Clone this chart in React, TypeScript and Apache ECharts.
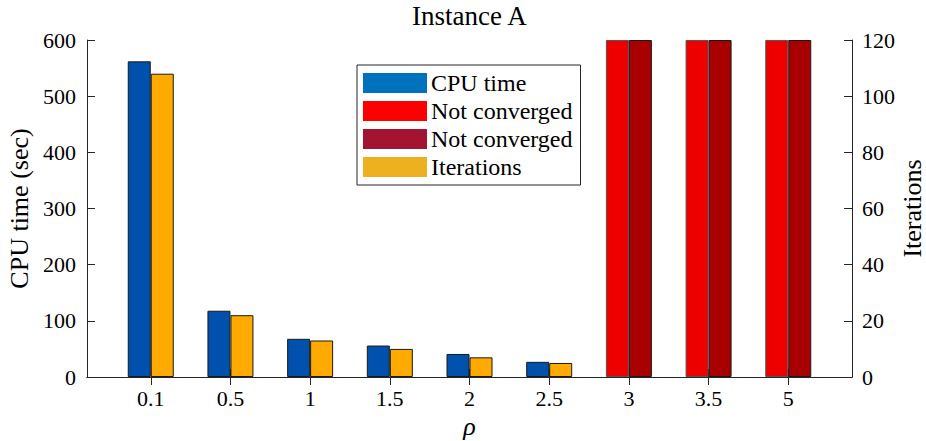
import React, { useEffect, useRef } from "react";
import * as echarts from "echarts";

const CATEGORIES = ["0.1", "0.5", "1", "1.5", "2", "2.5", "3", "3.5", "5"];
const CPU_TIME = [562, 118, 68, 56, 41, 27, null, null, null];
const CPU_NOT_CONVERGED = [null, null, null, null, null, null, 600, 600, 600];
const ITERATIONS = [108, 22, 13, 10, 7, 5, null, null, null];
const ITER_NOT_CONVERGED = [null, null, null, null, null, null, 120, 120, 120];
const LEFT_TICKS = [0, 100, 200, 300, 400, 500, 600];
const RIGHT_TICKS = [0, 20, 40, 60, 80, 100, 120];

const FONT = "'Liberation Serif', 'Times New Roman', serif";
const POS = CATEGORIES.map((_, i) => i + 1);

const toPairs = (arr: (number | null)[]) =>
  arr.map((v, i) => [POS[i], v === null ? "-" : v]);

export default function App() {
  const ref = useRef<HTMLDivElement>(null);
  useEffect(() => {
    if (!ref.current) return;
    const chart = echarts.init(ref.current, null, { renderer: "svg" });
    const axisColor = "#262626";
    const barBorder = { borderColor: "#1a1a1a", borderWidth: 1 };
    const xCommon = {
      type: "value" as const,
      min: 0.2,
      max: 9.8,
      splitLine: { show: false },
      axisLine: { show: true, lineStyle: { color: axisColor, width: 1 } },
    };
    chart.setOption({
      animation: false,
      title: {
        text: "Instance A",
        left: 412,
        top: 2,
        padding: 0,
        textStyle: { fontFamily: FONT, fontSize: 27, fontWeight: "normal", color: "#000" },
      },
      grid: { left: 87, right: 74, top: 40, bottom: 64, containLabel: false, outerBoundsMode: "none" },
      legend: {
        orient: "vertical",
        left: 357,
        top: 65,
        padding: [6, 8, 6, 6],
        itemWidth: 64,
        itemHeight: 20,
        itemGap: 4,
        borderColor: axisColor,
        borderWidth: 1,
        backgroundColor: "#fff",
        icon: "rect",
        textStyle: { fontFamily: FONT, fontSize: 24, color: "#000", padding: [0, 0, 0, -1] },
        formatter: (name: string) => name.replace(/ \(.*\)$/, ""),
        data: [
          { name: "CPU time", itemStyle: { color: "#0072BD", borderWidth: 0 } },
          { name: "Not converged (CPU)", itemStyle: { color: "#FF0000", borderWidth: 0 } },
          { name: "Not converged (iterations)", itemStyle: { color: "#A2142F", borderWidth: 0 } },
          { name: "Iterations", itemStyle: { color: "#EDB120", borderWidth: 0 } },
        ],
      },
      xAxis: [
        {
          ...xCommon,
          position: "bottom",
          name: "ρ",
          nameLocation: "middle",
          nameGap: 36,
          nameMoveOverlap: false,
          nameTextStyle: { fontFamily: FONT, fontSize: 26, fontStyle: "italic", color: "#000" },
          axisTick: { show: true, inside: true, length: 8, customValues: POS, lineStyle: { color: axisColor } },
          axisLabel: {
            customValues: POS,
            margin: 10,
            fontFamily: FONT,
            fontSize: 22,
            color: "#000",
            formatter: (v: number) => CATEGORIES[Math.round(v) - 1] ?? "",
          },
        },
        {
          ...xCommon,
          position: "top",
          axisTick: { show: true, inside: true, length: 8, customValues: POS, lineStyle: { color: axisColor } },
          axisLabel: { show: false },
        },
      ],
      yAxis: [
        {
          type: "value",
          position: "left",
          min: LEFT_TICKS[0],
          max: LEFT_TICKS[LEFT_TICKS.length - 1],
          interval: LEFT_TICKS[1] - LEFT_TICKS[0],
          name: "CPU time (sec)",
          nameLocation: "middle",
          nameGap: 55,
          nameMoveOverlap: false,
          nameTextStyle: { fontFamily: FONT, fontSize: 26, color: "#000" },
          splitLine: { show: false },
          axisLine: { show: true, lineStyle: { color: axisColor } },
          axisTick: { show: true, inside: true, length: 8, lineStyle: { color: axisColor } },
          axisLabel: { fontFamily: FONT, fontSize: 22, color: "#000", margin: 11 },
        },
        {
          type: "value",
          position: "right",
          min: RIGHT_TICKS[0],
          max: RIGHT_TICKS[RIGHT_TICKS.length - 1],
          interval: RIGHT_TICKS[1] - RIGHT_TICKS[0],
          name: "Iterations",
          nameLocation: "middle",
          nameGap: 47,
          nameMoveOverlap: false,
          nameTextStyle: { fontFamily: FONT, fontSize: 26, color: "#000" },
          splitLine: { show: false },
          axisLine: { show: true, lineStyle: { color: axisColor } },
          axisTick: { show: true, inside: true, length: 8, lineStyle: { color: axisColor } },
          axisLabel: { fontFamily: FONT, fontSize: 22, color: "#000", margin: 10 },
        },
      ],
      series: [
        {
          name: "CPU time",
          type: "bar",
          xAxisIndex: 0,
          yAxisIndex: 0,
          stack: "cpu",
          barWidth: 23,
          barGap: "0%",
          itemStyle: { color: "#0050AE", ...barBorder },
          data: toPairs(CPU_TIME),
        },
        {
          name: "Not converged (CPU)",
          type: "bar",
          xAxisIndex: 0,
          yAxisIndex: 0,
          stack: "cpu",
          barWidth: 23,
          barGap: "0%",
          itemStyle: { color: "#EE0000", borderColor: "#555", borderWidth: 1 },
          data: toPairs(CPU_NOT_CONVERGED),
        },
        {
          name: "Iterations",
          type: "bar",
          xAxisIndex: 0,
          yAxisIndex: 1,
          stack: "iter",
          barWidth: 23,
          barGap: "0%",
          itemStyle: { color: "#FFAA00", ...barBorder },
          data: toPairs(ITERATIONS),
        },
        {
          name: "Not converged (iterations)",
          type: "bar",
          xAxisIndex: 0,
          yAxisIndex: 1,
          stack: "iter",
          barWidth: 23,
          barGap: "0%",
          itemStyle: { color: "#A80000", ...barBorder },
          data: toPairs(ITER_NOT_CONVERGED),
        },
      ],
    });
    return () => chart.dispose();
  }, []);
  return (
    <div
      ref={ref}
      style={{ position: "fixed", left: 0, top: 0, width: 926, height: 441, background: "#fff" }}
    />
  );
}
